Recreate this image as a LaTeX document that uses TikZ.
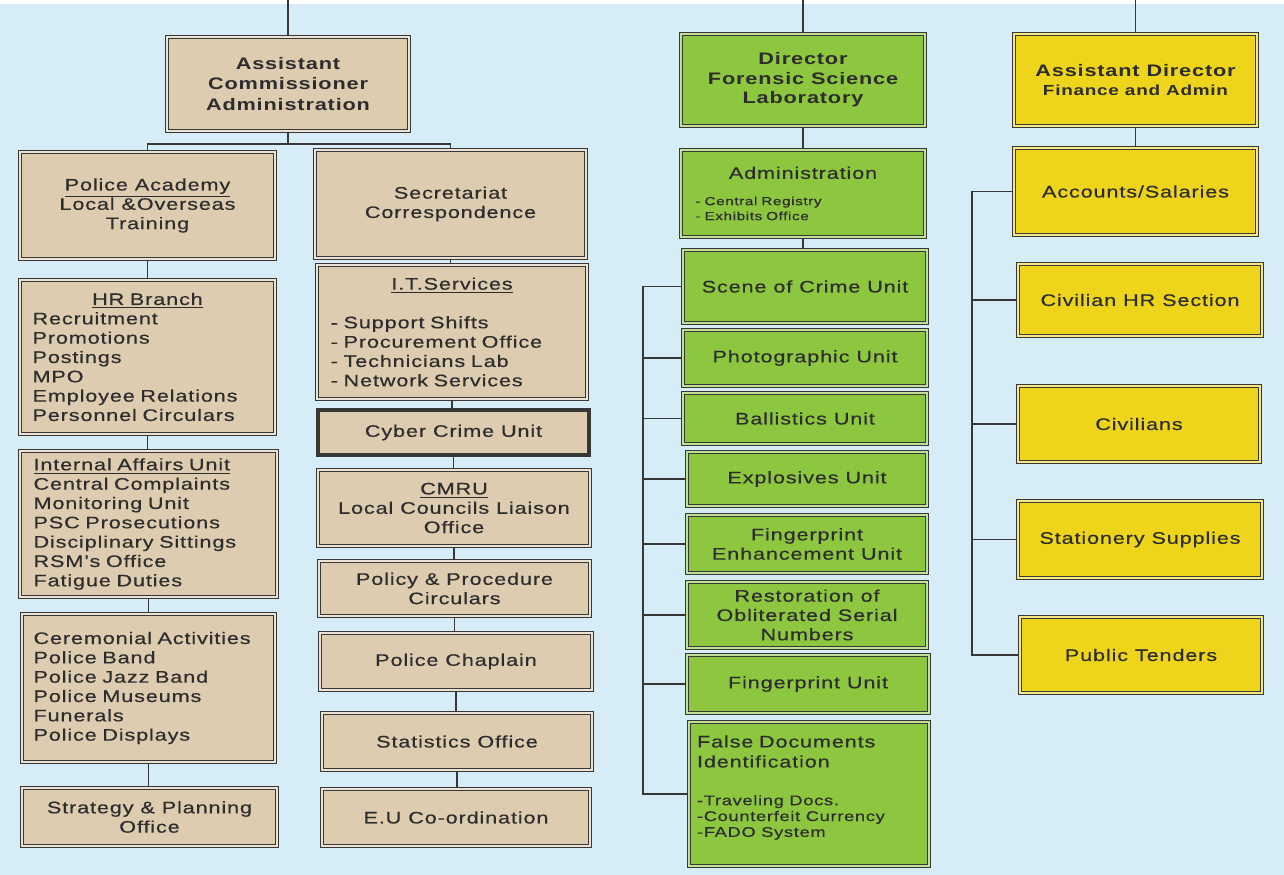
\documentclass[tikz,border=0pt]{standalone}
\usepackage{fontspec}
\setmainfont{Liberation Sans}[FakeStretch=1.3, LetterSpace=5, UprightFeatures={FakeBold=0.4}]
\usepackage{xcolor}
\usepackage{tikz}

\definecolor{bgblue}{RGB}{214,236,246}
\definecolor{tanfill}{RGB}{221,204,176}
\definecolor{greenfill}{RGB}{141,198,63}
\definecolor{yellowfill}{RGB}{238,213,28}
\definecolor{edge}{RGB}{55,55,55}
\definecolor{ink}{RGB}{45,45,45}

\tikzset{
  orgbox/.style={draw=edge, line width=0.75pt, double=#1!55!white, double distance=1.1pt,
    fill=#1, text=ink, align=center, inner sep=2pt, font=\fontsize{9.5}{11}\selectfont},
  tanunit/.style={orgbox=tanfill},
  greenunit/.style={orgbox=greenfill},
  yellowunit/.style={orgbox=yellowfill},
  boxsize/.style 2 args={minimum width=#1*0.02cm, minimum height=#2*0.02cm},
  link/.style={draw=edge, line width=1pt},
}

\begin{document}
\begin{tikzpicture}[x=0.02cm, y=-0.02cm]
    \useasboundingbox (0,0) rectangle (1284,875);
    \fill[bgblue] (0,0) rectangle (1284,875);
    \fill[white] (0,0) rectangle (1284,4);

    % administration branch
    \node[tanunit, boxsize={242}{94}, font=\bfseries\fontsize{9.5}{11.5}\selectfont] (asstcomm) at (288,84) {Assistant\\Commissioner\\Administration};
    \node[tanunit, boxsize={255}{107}] (academy) at (147.5,205.5) {\underline{Police Academy}\\Local \&Overseas\\Training};
    \node[tanunit, boxsize={255}{154}, align=left, text width=4.6cm] (hrbranch) at (147.5,357) {\hfill\underline{HR Branch}\hfill\null\\Recruitment\\Promotions\\Postings\\MPO\\Employee Relations\\Personnel Circulars};
    \node[tanunit, boxsize={257}{146}, align=left, text width=4.6cm] (internal) at (148.5,524) {\underline{Internal Affairs Unit}\\Central Complaints\\Monitoring Unit\\PSC Prosecutions\\Disciplinary Sittings\\RSM's Office\\Fatigue Duties};
    \node[tanunit, boxsize={253}{148}, align=left, text width=4.6cm] (ceremonial) at (148.5,688) {Ceremonial Activities\\Police Band\\Police Jazz Band\\Police Museums\\Funerals\\Police Displays};
    \node[tanunit, boxsize={255}{58}] (strategy) at (149.5,817) {Strategy \& Planning\\Office};

    \node[tanunit, boxsize={271}{108}] (secretariat) at (450.5,204) {Secretariat\\Correspondence};
    \node[tanunit, boxsize={270}{134}, align=left, text width=4.85cm] (itserv) at (452,332) {\hfill\underline{I.T.Services}\hfill\null\\[11pt]- Support Shifts\\- Procurement Office\\- Technicians Lab\\- Network Services};
    \node[tanunit, boxsize={271}{45}, double=edge] (cyber) at (453.5,432.5) {Cyber Crime Unit};
    \node[tanunit, boxsize={272}{76}] (cmru) at (454,508) {\underline{CMRU}\\Local Councils Liaison\\Office};
    \node[tanunit, boxsize={271}{55}] (policy) at (454.5,588.5) {Policy \& Procedure\\Circulars};
    \node[tanunit, boxsize={272}{57}] (chaplain) at (456,661.5) {Police Chaplain};
    \node[tanunit, boxsize={270}{57}] (stats) at (457,741.5) {Statistics Office};
    \node[tanunit, boxsize={268}{57}] (eucoord) at (456,817.5) {E.U Co-ordination};

    % forensic science laboratory
    \node[greenunit, boxsize={244}{92}, font=\bfseries\fontsize{9.5}{11}\selectfont] (director) at (803,80) {Director\\Forensic Science\\Laboratory};
    \node[greenunit, boxsize={244}{87}, align=left, text width=4.3cm, font=\fontsize{6.7}{8.5}\selectfont] (admin) at (803,193.5) {\hfill{\fontsize{9.5}{11}\selectfont Administration}\hfill\null\\[6.5pt]- Central Registry\\- Exhibits Office};
    \node[greenunit, boxsize={244}{73}] (scene) at (805,286.5) {Scene of Crime Unit};
    \node[greenunit, boxsize={244}{56}] (photo) at (805,358) {Photographic Unit};
    \node[greenunit, boxsize={244}{51}] (ballistics) at (805,418.5) {Ballistics Unit};
    \node[greenunit, boxsize={240}{54}] (explosives) at (807,479) {Explosives Unit};
    \node[greenunit, boxsize={240}{58}] (fpenhance) at (807,544) {Fingerprint\\Enhancement Unit};
    \node[greenunit, boxsize={240}{66}] (restoration) at (807,615) {Restoration of\\Obliterated Serial\\Numbers};
    \node[greenunit, boxsize={242}{58}] (fpunit) at (808,684) {Fingerprint Unit};
    \node[greenunit, boxsize={240}{144}, align=left, text width=4.48cm] (fdoc) at (809,794) {{\fontsize{9.5}{11.4}\selectfont False Documents\\Identification\par}\vspace{12.5pt}{\fontsize{8}{9}\selectfont -Traveling Docs.\\-Counterfeit Currency\\-FADO System\par\mbox{}\par}};

    % finance and admin
    \node[yellowunit, boxsize={243}{92}] (asstdir) at (1135.5,80) {{\bfseries\fontsize{9.5}{11}\selectfont Assistant Director}\\{\bfseries\fontsize{8.3}{10}\selectfont Finance and Admin}};
    \node[yellowunit, boxsize={243}{87}] (accounts) at (1135.5,191.5) {Accounts/Salaries};
    \node[yellowunit, boxsize={244}{72}] (civhr) at (1140,300) {Civilian HR Section};
    \node[yellowunit, boxsize={242}{76}] (civilians) at (1139,424) {Civilians};
    \node[yellowunit, boxsize={244}{77}] (stationery) at (1140,539.5) {Stationery Supplies};
    \node[yellowunit, boxsize={242}{76}] (tenders) at (1141,655) {Public Tenders};

    \coordinate (feedA) at (288,0);
    \coordinate (feedB) at (803,0);
    \coordinate (feedC) at (1135.5,0);
    \coordinate (greenrail) at (643,0);
    \coordinate (yellowrail) at (972,0);

    \draw[link] (feedA) -- (asstcomm.north);
    \draw[link] (feedB) -- (director.north);
    \draw[link] (feedC) -- (asstdir.north);
    \draw[link] (asstcomm.south) -- ++(0,12) -| (academy.north);
    \draw[link] (asstcomm.south) -- ++(0,12) -| (secretariat.north);

    \foreach \a/\b in {academy/hrbranch, hrbranch/internal, internal/ceremonial, ceremonial/strategy,
        secretariat/itserv, itserv/cyber, cyber/cmru, cmru/policy, policy/chaplain, chaplain/stats,
        stats/eucoord, director/admin, admin/scene, asstdir/accounts}
        \draw[link] (\a.south) -- (\a.south |- \b.north);

    \draw[link] (scene.west) -- (scene.west -| greenrail) -- (fdoc.west -| greenrail) -- (fdoc.west);
    \foreach \u in {photo, ballistics, explosives, fpenhance, restoration, fpunit}
        \draw[link] (\u.west) -- (\u.west -| greenrail);

    \draw[link] (accounts.west) -- (accounts.west -| yellowrail) -- (tenders.west -| yellowrail) -- (tenders.west);
    \foreach \u in {civhr, civilians, stationery}
        \draw[link] (\u.west) -- (\u.west -| yellowrail);
\end{tikzpicture}
\end{document}
